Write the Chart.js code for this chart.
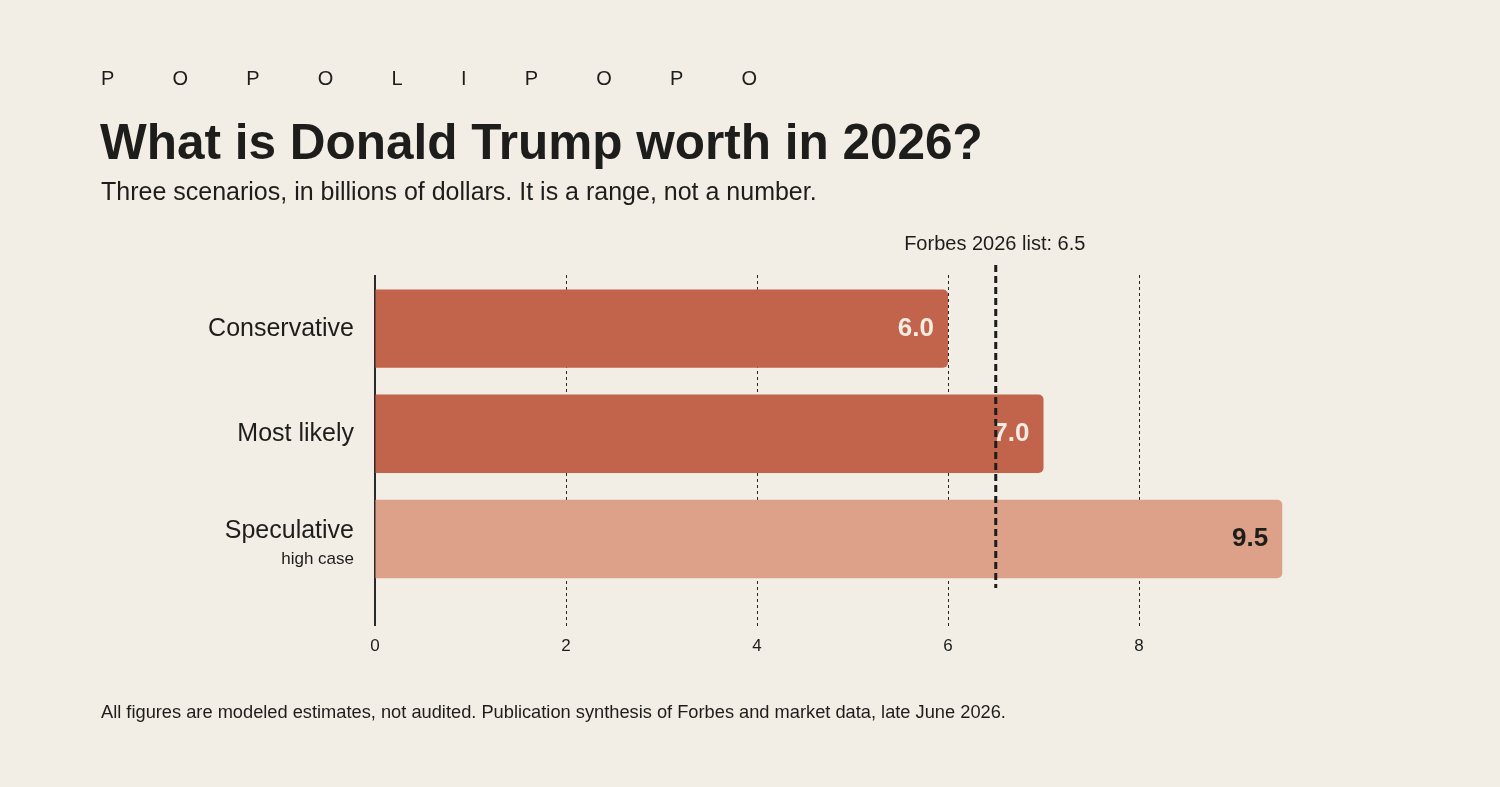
<!DOCTYPE html>
<html>
<head>
<meta charset="utf-8">
<script src="https://cdn.jsdelivr.net/npm/chart.js@4/dist/chart.umd.min.js"></script>
<style>
  body { margin: 0; background: #f2ede5; font-family: "Liberation Sans", Arial, sans-serif; color: #1d1d1b; }
  .wrap { position: relative; width: 1500px; height: 787px; overflow: hidden; }
  .kicker { position: absolute; left: 101px; top: 67px; font-size: 20px; letter-spacing: 58.2px; }
  .title { position: absolute; left: 100px; top: 113px; font-size: 49.5px; font-weight: bold; }
  .sub { position: absolute; left: 101px; top: 177px; font-size: 25px; }
  .foot { position: absolute; left: 101px; top: 701px; font-size: 18.25px; }
  canvas { position: absolute; left: 0; top: 0; }
</style>
</head>
<body>
<div class="wrap">
  <canvas id="myChart" width="1500" height="787"></canvas>
  <div class="kicker">POPOLIPOPO</div>
  <div class="title">What is Donald Trump worth in 2026?</div>
  <div class="sub">Three scenarios, in billions of dollars. It is a range, not a number.</div>
  <div class="foot">All figures are modeled estimates, not audited. Publication synthesis of Forbes and market data, late June 2026.</div>
</div>
<script>
let scenarios = ['Conservative', 'Most likely', 'Speculative']
let subLabels = ['', '', 'high case']
let worth = [6.0, 7.0, 9.5]
let barColors = ['#c2634b', '#c2634b', '#dda088']
let valueColors = ['#f3ece3', '#f3ece3', '#1d1d1b']
let xTicks = [0, 2, 4, 6, 8]
let forbesValue = 6.5
let forbesLabel = 'Forbes 2026 list: 6.5'

let font = '"Liberation Sans", Arial, sans-serif'

// grid behind the bars, everything else on top
let drawExtras = {
    id: 'drawExtras',
    beforeDatasetsDraw(chart) {
        let ctx = chart.ctx
        let x = chart.scales.x
        ctx.save()
        for (let i = 0; i < xTicks.length; i++) {
            let px = Math.round(x.getPixelForValue(xTicks[i]))
            ctx.beginPath()
            if (xTicks[i] == 0) {
                ctx.setLineDash([])
                ctx.lineWidth = 2
                ctx.strokeStyle = '#2a2a28'
                ctx.moveTo(px, 275)
                ctx.lineTo(px, 626)
            } else {
                ctx.setLineDash([3, 3])
                ctx.lineWidth = 1
                ctx.strokeStyle = '#262624'
                ctx.moveTo(px + 0.5, 275)
                ctx.lineTo(px + 0.5, 626)
            }
            ctx.stroke()
        }
        ctx.restore()
    },
    afterDatasetsDraw(chart) {
        let ctx = chart.ctx
        let x = chart.scales.x
        let y = chart.scales.y
        ctx.save()

        // value labels inside the bars
        ctx.font = 'bold 26px ' + font
        ctx.textAlign = 'right'
        ctx.textBaseline = 'middle'
        for (let i = 0; i < worth.length; i++) {
            ctx.fillStyle = valueColors[i]
            ctx.fillText(worth[i].toFixed(1), x.getPixelForValue(worth[i]) - 14, y.getPixelForValue(i))
        }

        // category labels
        ctx.fillStyle = '#1d1d1b'
        for (let i = 0; i < scenarios.length; i++) {
            let cy = y.getPixelForValue(i)
            if (subLabels[i]) {
                ctx.font = '25px ' + font
                ctx.fillText(scenarios[i], 354, cy - 8)
                ctx.font = '17px ' + font
                ctx.fillText(subLabels[i], 354, cy + 20.5)
            } else {
                ctx.font = '25px ' + font
                ctx.fillText(scenarios[i], 354, cy + 0.5)
            }
        }

        // forbes reference line
        let fx = x.getPixelForValue(forbesValue)
        ctx.beginPath()
        ctx.setLineDash([7, 4])
        ctx.lineWidth = 3
        ctx.strokeStyle = '#1d1d1b'
        ctx.moveTo(fx, 265)
        ctx.lineTo(fx, 588)
        ctx.stroke()
        ctx.setLineDash([])
        ctx.font = '20px ' + font
        ctx.textAlign = 'center'
        ctx.fillText(forbesLabel, fx - 1, 244)

        ctx.restore()
    }
}

let ctx = document.getElementById('myChart').getContext('2d')
let myChart = new Chart(ctx, {
    type: 'bar',
    data: {
        labels: scenarios,
        datasets: [{
            data: worth,
            backgroundColor: barColors,
            borderRadius: 5,
            borderSkipped: 'start',
            barPercentage: 0.745,
            categoryPercentage: 1
        }]
    },
    options: {
        indexAxis: 'y',
        responsive: false,
        animation: false,
        layout: { padding: { left: 375, right: 170, top: 276, bottom: 119 } },
        plugins: { legend: { display: false }, tooltip: { enabled: false } },
        scales: {
            x: {
                min: 0,
                max: 10,
                afterBuildTicks: (scale) => { scale.ticks = xTicks.map(v => ({ value: v })) },
                grid: { color: 'rgba(0,0,0,0)', drawOnChartArea: false, drawTicks: true, tickLength: 34 },
                border: { display: false },
                ticks: { color: '#1d1d1b', font: { family: font, size: 17 }, padding: 11 }
            },
            y: { display: false }
        }
    },
    plugins: [drawExtras]
})
</script>
</body>
</html>
